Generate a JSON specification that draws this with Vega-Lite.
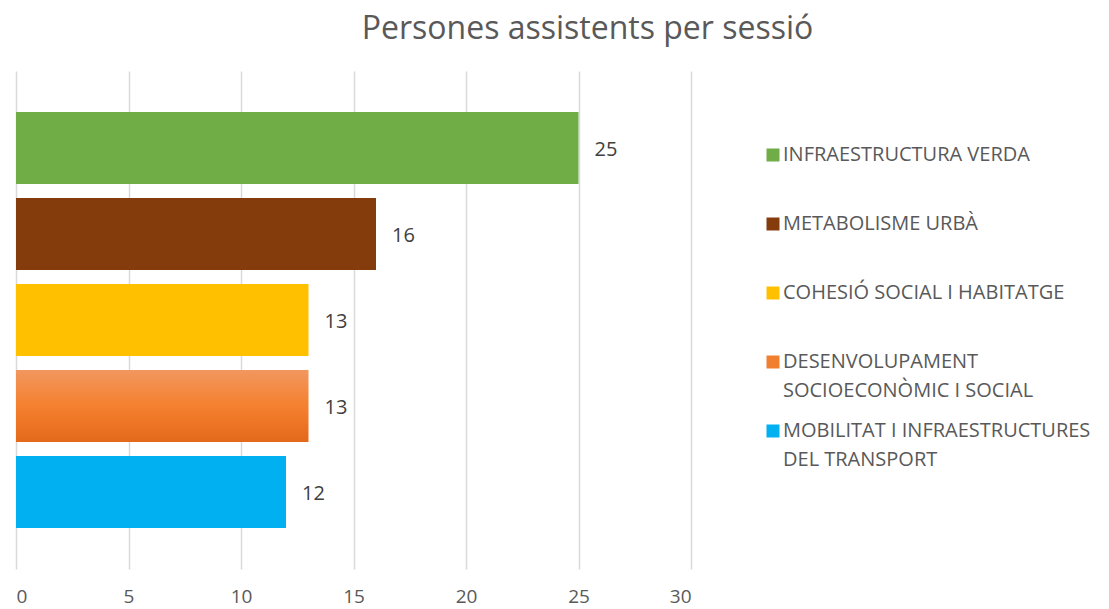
{
  "$schema": "https://vega.github.io/schema/vega-lite/v6.json",
  "autosize": "none",
  "width": 675,
  "height": 498,
  "padding": {"left": 16, "top": 71, "right": 418, "bottom": 40},
  "background": "white",
  "view": {"stroke": null},
  "config": {"style": {"guide-label": {"lineHeight": 29}}},
  "title": {
    "text": "Persones assistents per sessió",
    "font": "Open Sans",
    "fontSize": 32,
    "fontWeight": "normal",
    "color": "#595959",
    "anchor": "middle",
    "frame": "group",
    "dx": 234,
    "offset": 25
  },
  "data": {
    "values": [
      {"cat": "INFRAESTRUCTURA VERDA", "v": 25},
      {"cat": "METABOLISME URBÀ", "v": 16},
      {"cat": "COHESIÓ SOCIAL I HABITATGE", "v": 13},
      {"cat": "DESENVOLUPAMENT SOCIOECONÒMIC I SOCIAL", "v": 13},
      {"cat": "MOBILITAT I INFRAESTRUCTURES DEL TRANSPORT", "v": 12}
    ]
  },
  "encoding": {
    "y": {
      "field": "cat",
      "type": "nominal",
      "sort": null,
      "axis": null,
      "scale": {"paddingInner": 0.163, "paddingOuter": 0.477}
    },
    "x": {
      "field": "v",
      "type": "quantitative",
      "scale": {"domain": [0, 30], "nice": false},
      "axis": {
        "title": null,
        "values": [0, 5, 10, 15, 20, 25, 30],
        "grid": true,
        "gridColor": "#D9D9D9",
        "gridWidth": 1.5,
        "domain": false,
        "ticks": false,
        "labelFont": "Open Sans",
        "labelFontSize": 19,
        "labelColor": "#595959",
        "labelPadding": 18
      }
    }
  },
  "layer": [
    {
      "mark": {"type": "bar"},
      "encoding": {
        "color": {
          "condition": {
            "test": "datum.cat == 'DESENVOLUPAMENT SOCIOECONÒMIC I SOCIAL'",
            "value": {"gradient": "linear", "x1": 0, "y1": 0, "x2": 0, "y2": 1, "stops": [
              {"offset": 0, "color": "#F1975F"},
              {"offset": 0.5, "color": "#F5802F"},
              {"offset": 1, "color": "#E4691A"}
            ]}
          },
          "field": "cat",
          "type": "nominal",
          "sort": null,
          "scale": {
            "domain": [
              "INFRAESTRUCTURA VERDA",
              "METABOLISME URBÀ",
              "COHESIÓ SOCIAL I HABITATGE",
              "DESENVOLUPAMENT SOCIOECONÒMIC I SOCIAL",
              "MOBILITAT I INFRAESTRUCTURES DEL TRANSPORT"
            ],
            "range": ["#70AD47", "#843C0C", "#FFC000", "#F07F30", "#00B0F0"]
          },
          "legend": {
            "title": null,
            "orient": "none",
            "legendX": 747,
            "legendY": 74,
            "values": [
              "INFRAESTRUCTURA VERDA",
              "METABOLISME URBÀ",
              "COHESIÓ SOCIAL I HABITATGE",
              "DESENVOLUPAMENT SOCIOECONÒMIC I SOCIAL"
            ],
            "symbolType": "square",
            "symbolSize": 169,
            "symbolStrokeWidth": 0,
            "symbolOpacity": 1,
            "labelFont": "Open Sans",
            "labelFontSize": 20,
            "labelColor": "#595959",
            "labelOffset": 0,
            "labelLimit": 400,
            "rowPadding": 49,
            "labelExpr": "datum.label == 'DESENVOLUPAMENT SOCIOECONÒMIC I SOCIAL' ? ['DESENVOLUPAMENT', 'SOCIOECONÒMIC I SOCIAL'] : datum.label"
          }
        }
      }
    },
    {
      "transform": [{"filter": "datum.cat == 'MOBILITAT I INFRAESTRUCTURES DEL TRANSPORT'"}],
      "mark": {"type": "bar", "opacity": 0},
      "encoding": {
        "fill": {
          "field": "cat",
          "type": "nominal",
          "scale": {
            "domain": ["MOBILITAT I INFRAESTRUCTURES DEL TRANSPORT"],
            "range": ["#00B0F0"]
          },
          "legend": {
            "title": null,
            "orient": "none",
            "legendX": 747,
            "legendY": 350,
            "symbolType": "square",
            "symbolSize": 169,
            "symbolStrokeWidth": 0,
            "symbolOpacity": 1,
            "labelFont": "Open Sans",
            "labelFontSize": 20,
            "labelColor": "#595959",
            "labelOffset": 0,
            "labelLimit": 400,
            "labelExpr": "['MOBILITAT I INFRAESTRUCTURES', 'DEL TRANSPORT']"
          }
        }
      }
    },
    {
      "mark": {
        "type": "text",
        "align": "left",
        "baseline": "middle",
        "dx": 16,
        "dy": 2,
        "font": "Open Sans",
        "fontSize": 20,
        "color": "#404040"
      },
      "encoding": {"text": {"field": "v", "type": "quantitative"}}
    }
  ]
}
